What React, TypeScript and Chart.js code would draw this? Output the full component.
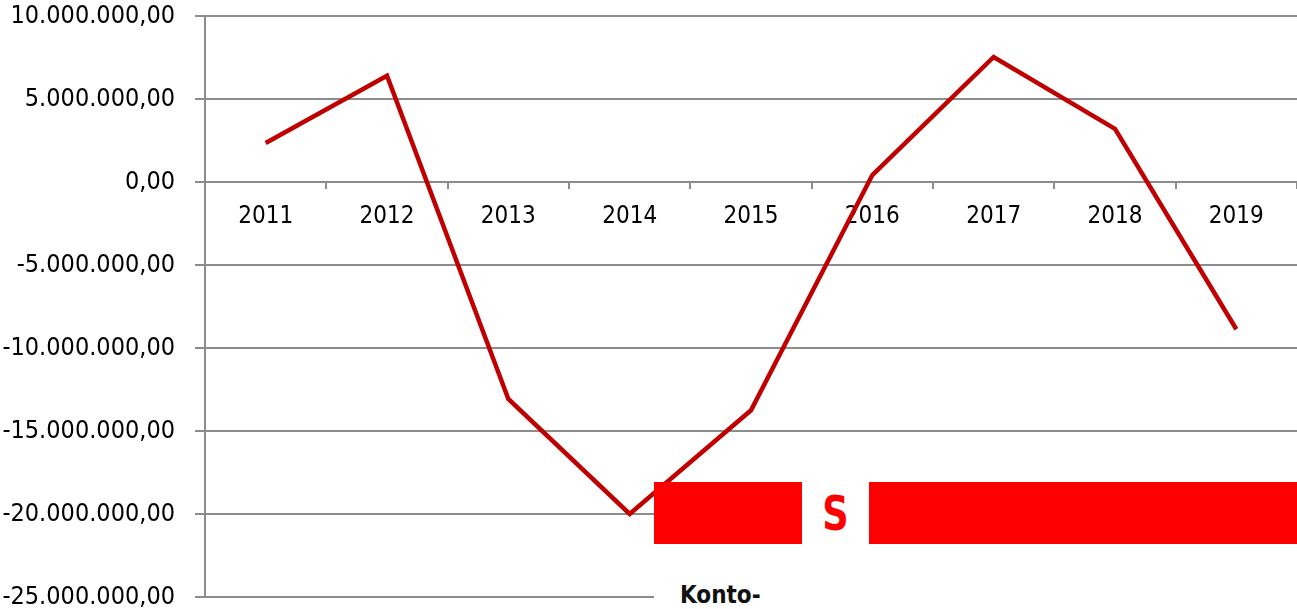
import React, { useEffect, useRef } from "react";
import { Chart, registerables } from "chart.js";

Chart.register(...registerables);

const years = ["2011", "2012", "2013", "2014", "2015", "2016", "2017", "2018", "2019"];
const values = [2350000, 6400000, -13070000, -20000000, -13750000, 420000, 7530000, 3200000, -8870000];
const yMin = -25000000;
const yMax = 10000000;
const yStep = 5000000;

const FONT = "'DejaVu Sans Condensed', 'DejaVu Sans', sans-serif";
const GRID = "#8c8c8c";
const LINE = "#c00000";

function formatDe(v: number): string {
  const neg = v < 0;
  const abs = Math.abs(Math.round(v));
  const s = String(abs).replace(/\B(?=(\d{3})+(?!\d))/g, ".");
  return (neg ? "-" : "") + s + ",00";
}

export default function App() {
  const ref = useRef<HTMLCanvasElement | null>(null);
  useEffect(() => {
    if (!ref.current) return;
    const chart = new Chart(ref.current, {
      type: "line",
      data: {
        labels: years,
        datasets: [
          {
            data: values,
            borderColor: LINE,
            borderWidth: 4.5,
            pointRadius: 0,
            tension: 0,
            fill: false,
          },
        ],
      },
      options: {
        animation: false,
        responsive: true,
        maintainAspectRatio: false,
        layout: { padding: { top: 0, bottom: 0, left: 0, right: 0 } },
        plugins: { legend: { display: false }, tooltip: { enabled: false } },
        scales: {
          x: {
            type: "category",
            position: { y: 0 } as any,
            offset: true,
            grid: {
              offset: true,
              drawOnChartArea: false,
              drawTicks: true,
              tickLength: 7,
              color: GRID,
              lineWidth: 2,
            },
            border: { display: false },
            ticks: {
              color: "#000",
              padding: 16,
              maxRotation: 0,
              font: { family: FONT, size: 24, lineHeight: 1 },
            },
          },
          y: {
            min: yMin,
            max: yMax,
            afterFit: (s: any) => {
              s.width = 205;
              s.paddingTop = 16;
              s.paddingBottom = 12;
            },
            ticks: {
              stepSize: yStep,
              color: "#000",
              padding: 20,
              font: { family: FONT, size: 25, lineHeight: 1 },
              callback: (v: any) => formatDe(Number(v)),
            },
            grid: {
              color: GRID,
              lineWidth: 2,
              tickLength: 10,
              drawTicks: true,
            },
            border: { display: true, color: GRID, width: 2 },
          },
        },
      },
    });
    return () => chart.destroy();
  }, []);

  return (
    <div style={{ position: "fixed", left: 0, top: 0, width: 1297, height: 609, background: "#fff" }}>
      <canvas ref={ref} />
      <div
        style={{
          position: "absolute",
          left: 654,
          top: 482,
          width: 643,
          height: 127,
          background: "#fff",
        }}
      >
        <div style={{ position: "absolute", left: 0, top: 0, width: 148, height: 62, background: "#ff0000" }} />
        <div
          style={{
            position: "absolute",
            left: 148,
            top: 0,
            width: 67,
            height: 62,
            textAlign: "center",
            color: "#ff0000",
            fontFamily: FONT,
            fontWeight: "bold",
            fontSize: 48,
            lineHeight: "62px",
            transform: "scaleX(0.85)",
          }}
        >
          S
        </div>
        <div style={{ position: "absolute", left: 215, top: 0, width: 428, height: 62, background: "#ff0000" }} />
        <div
          style={{
            position: "absolute",
            left: 26,
            top: 100,
            color: "#111",
            fontFamily: FONT,
            fontWeight: "bold",
            fontSize: 24,
            lineHeight: "26px",
          }}
        >
          Konto-
        </div>
      </div>
    </div>
  );
}
